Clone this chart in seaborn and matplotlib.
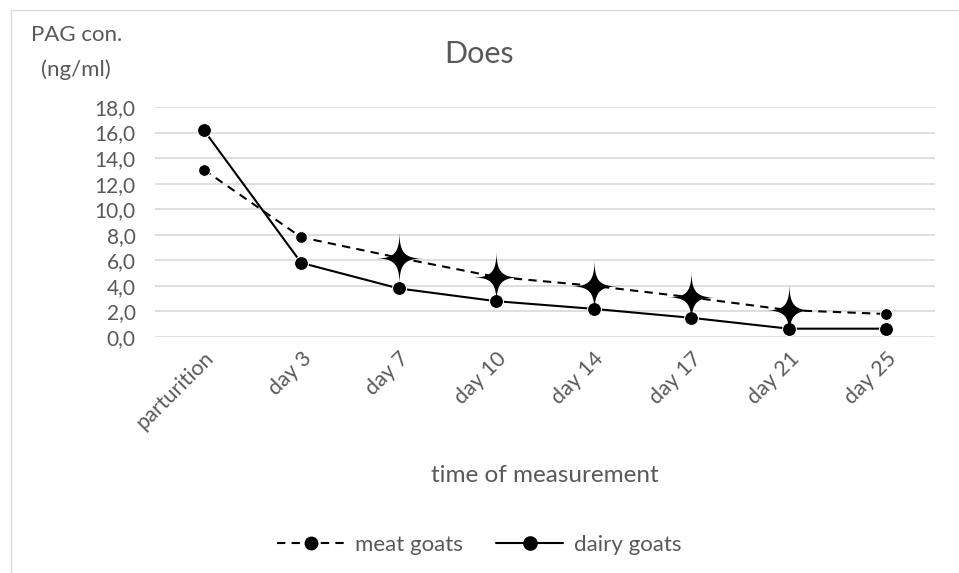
import matplotlib.pyplot as plt
import matplotlib.patches as mpatches
from matplotlib.path import Path
from matplotlib.lines import Line2D
import seaborn as sns
import pandas as pd
import numpy as np

# Data
times = ["parturition", "day 3", "day 7", "day 10", "day 14", "day 17", "day 21", "day 25"]
meat_goats = [13.1, 7.8, 6.2, 4.7, 4.0, 3.1, 2.1, 1.8]
dairy_goats = [16.2, 5.8, 3.8, 2.8, 2.2, 1.5, 0.65, 0.65]
# significant difference markers (stars) on the meat goat series
significant = [False, False, True, True, True, True, True, False]
y_ticks = [0, 2, 4, 6, 8, 10, 12, 14, 16, 18]

df = pd.DataFrame({"time": times, "meat goats": meat_goats, "dairy goats": dairy_goats})

sns.set_style("white")
plt.rcParams["font.family"] = ["Lato", "DejaVu Sans"]
grey = "#595959"

fig = plt.figure(figsize=(9.59, 5.73), dpi=100)
fig.patches.append(mpatches.Rectangle((0.011, -0.01), 0.99, 0.993, transform=fig.transFigure,
                                      fill=False, edgecolor="#d9d9d9", linewidth=1))
ax = fig.add_axes([0.1616, 0.4119, 0.8134, 0.4014])

sns.lineplot(data=df, x="time", y="dairy goats", ax=ax, color="black", linewidth=1.5,
             marker="o", markersize=10, sort=False, zorder=3)
sns.lineplot(data=df, x="time", y="meat goats", ax=ax, color="black", linewidth=1.5,
             linestyle=(0, (4, 3)), marker="o", markersize=8.5, sort=False, zorder=4)

# four-point star (concave superellipse) for significance
t = np.linspace(0, 2 * np.pi, 240)
p = 0.42
sx_shape = np.sign(np.cos(t)) * np.abs(np.cos(t)) ** (2 / p)
sy_shape = np.sign(np.sin(t)) * np.abs(np.sin(t)) ** (2 / p) * 1.12
star = Path(np.column_stack([sx_shape, sy_shape]))
sx = [i for i, s in enumerate(significant) if s]
sy = [meat_goats[i] for i in sx]
ax.scatter(sx, sy, marker=star, s=1700, color="black", zorder=5, linewidths=0)

ax.set_ylim(0, 18)
ax.set_xlim(-0.5, len(times) - 0.5)
ax.set_yticks(y_ticks)
ax.set_yticklabels([f"{v:.1f}".replace(".", ",") for v in y_ticks])
ax.yaxis.grid(True, color="#d9d9d9", linewidth=1.2)
ax.set_axisbelow(True)
for s in ax.spines.values():
    s.set_visible(False)
ax.tick_params(axis="both", length=0, colors=grey, labelsize=15, pad=14)
ax.set_xticks(range(len(times)))
ax.set_xticklabels(times, rotation=45, ha="right", rotation_mode="anchor", fontsize=15.5)
ax.tick_params(axis="x", pad=8)
ax.set_ylabel("")
ax.set_xlabel("")

fig.text(0.568, 0.171, "time of measurement", ha="center", va="center", fontsize=17.5, color=grey)
fig.text(0.5, 0.905, "Does", ha="center", va="center", fontsize=22, color=grey)
fig.text(0.080, 0.939, "PAG con.", ha="center", va="center", fontsize=16, color=grey)
fig.text(0.079, 0.878, "(ng/ml)", ha="center", va="center", fontsize=16, color=grey)

handles = [Line2D([], [], color="black", linestyle=(0, (4, 3)), marker="o", markersize=9, linewidth=1.5),
           Line2D([], [], color="black", linestyle="-", marker="o", markersize=9.5, linewidth=1.5)]
leg = fig.legend(handles, ["meat goats", "dairy goats"], loc="center", bbox_to_anchor=(0.5, 0.049),
                 ncol=2, frameon=False, fontsize=16, handlelength=3.0, columnspacing=1.5,
                 handletextpad=0.5)
for t in leg.get_texts():
    t.set_color(grey)

fig.savefig("out.png", dpi=100)
